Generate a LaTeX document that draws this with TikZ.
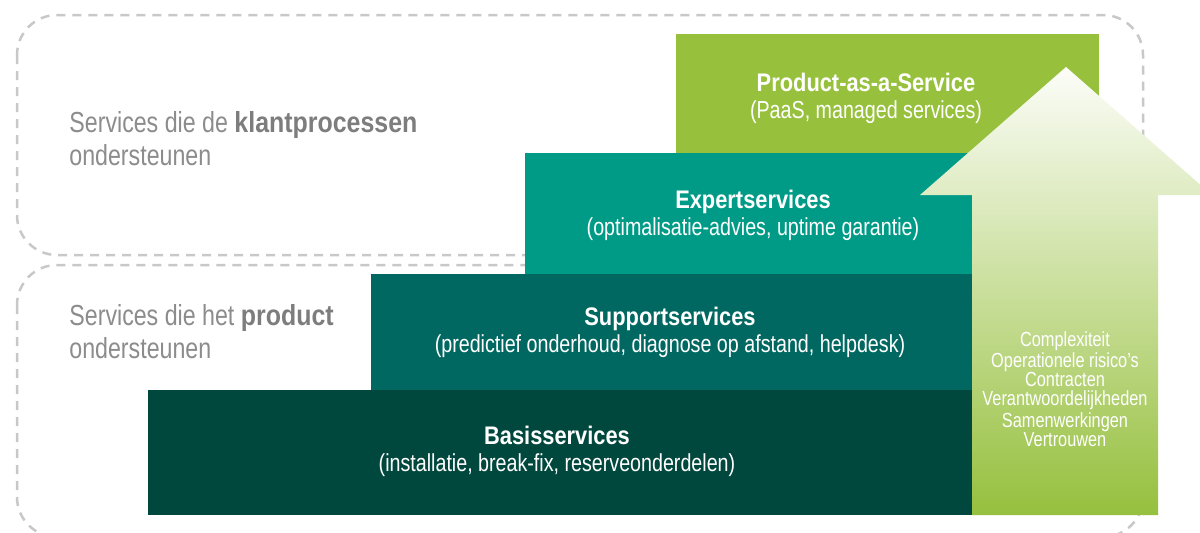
\documentclass[tikz,border=0pt]{standalone}
\usepackage{fontspec}
\setmainfont{Liberation Sans}
\newfontfamily\regf{Liberation Sans}[FakeStretch=0.8]
\newfontfamily\boldf{Liberation Sans}[FakeStretch=0.86]
\definecolor{basis}{RGB}{0,72,61}
\definecolor{support}{RGB}{0,104,97}
\definecolor{expert}{RGB}{0,155,135}
\definecolor{paas}{RGB}{151,193,61}
\definecolor{arrtop}{RGB}{252,253,248}
\definecolor{arrbot}{RGB}{150,192,62}
\definecolor{dashgray}{RGB}{200,200,200}
\definecolor{txtgray}{RGB}{140,140,140}
\definecolor{boldgray}{RGB}{125,125,125}
\begin{document}
\begin{tikzpicture}[x=0.5pt,y=-0.5pt,
  dashbox/.style={draw=dashgray, line width=1.25pt, dash pattern=on 4.5pt off 3.5pt, rounded corners=20pt},
  titlef/.style={text=white, inner sep=0pt, anchor=base, font=\boldf\bfseries\fontsize{12.7}{15}\selectfont},
  subf/.style={text=white, inner sep=0pt, anchor=base, font=\regf\fontsize{12.3}{15}\selectfont},
  sidef/.style={text=txtgray, inner sep=0pt, anchor=base west, align=left, font=\regf\fontsize{14.5}{16.5}\selectfont},
  arrf/.style={text=white, inner sep=0pt, anchor=base, align=center, font=\regf\fontsize{10.2}{9.5}\selectfont}]
\useasboundingbox (0,0) rectangle (1200,532);
\clip (0,0) rectangle (1200,532);
\fill[white] (0,0) rectangle (1200,532);
% dashed regions
\draw[dashbox] (17,15) rectangle (1143,255);
\draw[dashbox] (17,265) rectangle (1143,537);
% stairs
\fill[basis] (148,390) rectangle (975,515);
\fill[support] (371,274) rectangle (975,390);
\fill[expert] (525,153) rectangle (975,274);
\fill[paas] (676,34) rectangle (1099,153);
% arrow
\shade[top color=arrtop, bottom color=arrbot]
  (972,515) -- (972,195) -- (920,195) -- (1066,67) -- (1212,195) -- (1158,195) -- (1158,515) -- cycle;
% side labels (base anchor = last line)
\node[sidef] (klant) at (69,165) {Services die de {\boldf\bfseries\color{boldgray}klantprocessen}\\ondersteunen};
\node[sidef] (prod) at (69,358) {Services die het {\boldf\bfseries\color{boldgray}product}\\ondersteunen};
% box texts
\node[titlef] (paasT) at (866,91) {Product-as-a-Service};
\node[subf] (paasS) at (866,118) {(PaaS, managed services)};
\node[titlef] (expT) at (753,208) {Expertservices};
\node[subf] (expS) at (753,235) {(optimalisatie-advies, uptime garantie)};
\node[titlef] (supT) at (670,325) {Supportservices};
\node[subf] (supS) at (670,352) {(predictief onderhoud, diagnose op afstand, helpdesk)};
\node[titlef] (basT) at (557,444) {Basisservices};
\node[subf] (basS) at (557,471) {(installatie, break-fix, reserveonderdelen)};
% arrow text
\node[arrf] (arrT) at (1065,446) {Complexiteit\\Operationele risico’s\\Contracten\\Verantwoordelijkheden\\Samenwerkingen\\Vertrouwen};
\end{tikzpicture}
\end{document}
